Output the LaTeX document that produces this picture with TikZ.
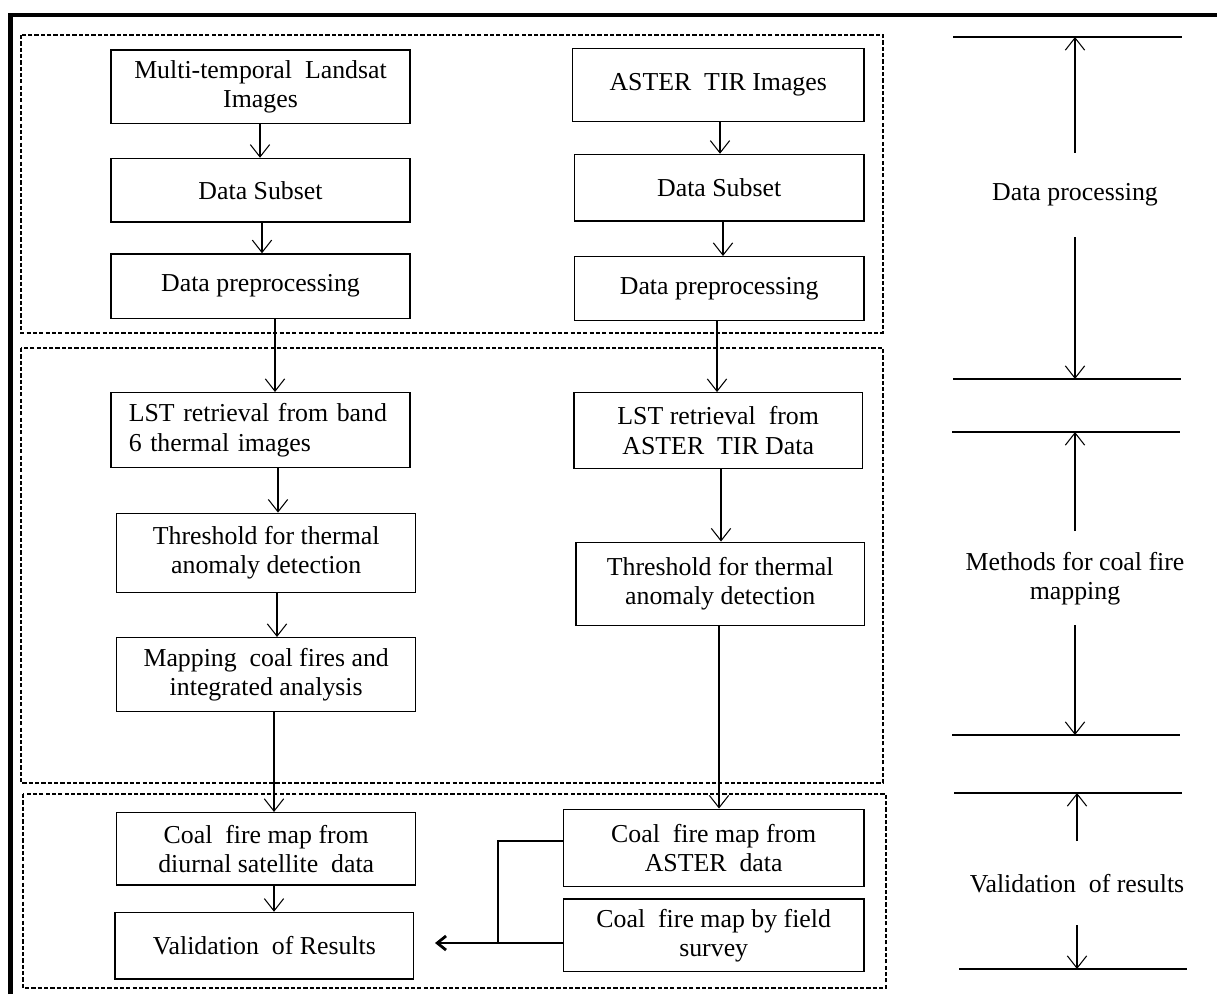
\documentclass[tikz,border=0pt]{standalone}
\usepackage{fontspec}
\setmainfont{Liberation Serif}
\usetikzlibrary{arrows.meta}
\tikzset{procbox/.style={draw, line width=0.8pt, align=center, inner sep=0pt,
		font=\fontsize{14.7}{16.6}\selectfont},
	flow/.style={-{Straight Barb[length=7pt,width=11pt]}, line width=0.6pt},
	dashbox/.style={draw, line width=0.6pt, dash pattern=on 2.4pt off 1.2pt},
	sidelabel/.style={align=center, inner sep=0pt, font=\fontsize{14.7}{16.6}\selectfont}}
\begin{document}
\begin{tikzpicture}[x=0.02cm,y=-0.02cm]
\useasboundingbox (0,0) rectangle (1217,994);
\draw[line width=2.3pt] (10.5,994) -- (10.5,15) -- (1217,15);
% stages
\draw[dashbox] (21,35) rectangle (883,333);
\draw[dashbox] (21,348) rectangle (883,783);
\draw[dashbox] (23,794) rectangle (886,988);
% Landsat column
\node[procbox, minimum width=5.98cm, minimum height=1.47cm] (landsat) at (260.5,86.7) {Multi-temporal\ \ Landsat\\Images};
\node[procbox, minimum width=5.98cm, minimum height=1.27cm] (lsub) at (260.5,190.2) {Data Subset};
\node[procbox, minimum width=5.98cm, minimum height=1.29cm] (lpre) at (260.5,286.2) {Data preprocessing};
\node[procbox, minimum width=5.98cm, minimum height=1.5cm, text width=5.27cm, align=left] (llst) at (260.5,430.2) {\makebox[5.27cm][s]{LST retrieval from band}\\6 thermal images};
\node[procbox, minimum width=5.98cm, minimum height=1.58cm] (lthr) at (266.2,552.8) {Threshold for thermal\\anomaly detection};
\node[procbox, minimum width=5.98cm, minimum height=1.48cm] (lmap) at (266.2,674.7) {Mapping\ \ coal fires and\\integrated analysis};
\node[procbox, minimum width=5.98cm, minimum height=1.45cm] (lcfm) at (266.2,848.9) {Coal\ \ fire map from\\diurnal satellite\ \ data};
\node[procbox, minimum width=5.97cm, minimum height=1.33cm] (valid) at (264.4,945.7) {Validation\ \ of Results};
% ASTER column
\node[procbox, minimum width=5.83cm, minimum height=1.47cm] (aster) at (718.2,85) {ASTER\ \ TIR Images};
\node[procbox, minimum width=5.79cm, minimum height=1.33cm] (asub) at (719.2,187.7) {Data Subset};
\node[procbox, minimum width=5.79cm, minimum height=1.28cm] (apre) at (719.2,288.7) {Data preprocessing};
\node[procbox, minimum width=5.77cm, minimum height=1.51cm] (alst) at (718.2,430.5) {LST retrieval\ \ from\\ASTER\ \ TIR Data};
\node[procbox, minimum width=5.77cm, minimum height=1.67cm] (athr) at (720.2,584) {Threshold for thermal\\anomaly detection};
\node[procbox, minimum width=6.01cm, minimum height=1.55cm] (acfm) at (713.7,848) {Coal\ \ fire map from\\ASTER\ \ data};
\node[procbox, minimum width=6.01cm, minimum height=1.45cm] (field) at (713.7,935.3) {Coal\ \ fire map by field\\survey};
% arrows
\draw[flow] (landsat.south -| 260,0) -- (lsub.north -| 260,0);
\draw[flow] (lsub.south -| 262,0) -- (lpre.north -| 262,0);
\draw[flow] (lpre.south -| 275,0) -- (llst.north -| 275,0);
\draw[flow] (llst.south -| 278,0) -- (lthr.north -| 278,0);
\draw[flow] (lthr.south -| 277,0) -- (lmap.north -| 277,0);
\draw[flow] (lmap.south -| 274,0) -- (lcfm.north -| 274,0);
\draw[flow] (lcfm.south -| 274,0) -- (valid.north -| 274,0);
\draw[flow] (aster.south -| 720,0) -- (asub.north -| 720,0);
\draw[flow] (asub.south -| 723,0) -- (apre.north -| 723,0);
\draw[flow] (apre.south -| 717,0) -- (alst.north -| 717,0);
\draw[flow] (alst.south -| 721,0) -- (athr.north -| 721,0);
\draw[flow] (athr.south -| 719,0) -- (acfm.north -| 719,0);
\coordinate (join) at (498,943);
\coordinate (tip) at (435,943);
\draw[line width=0.6pt] (acfm.west |- 0,841) -| (join) -- (field.west |- join);
\draw[line width=1.6pt, -{Straight Barb[length=5pt,width=8pt]}] (join) -- (tip);
% side scale
\draw[line width=0.7pt] (953,37) -- (1182,37);
\draw[line width=0.7pt] (953,379) -- (1181,379);
\draw[line width=0.7pt] (952,432) -- (1180,432);
\draw[line width=0.7pt] (952,735) -- (1180,735);
\draw[line width=0.7pt] (954,793) -- (1182,793);
\draw[line width=0.7pt] (959,969) -- (1187,969);
\node[sidelabel, minimum height=1.67cm] (dproc) at (1075,195) {Data processing};
\node[sidelabel, minimum height=1.87cm] (meth) at (1075,578.3) {Methods for coal fire\\mapping};
\node[sidelabel, minimum height=1.67cm] (vres) at (1077,883.3) {Validation\ \ of results};
\draw[flow] (dproc.north) -- (dproc.north |- 0,37);
\draw[flow] (dproc.south) -- (dproc.south |- 0,379);
\draw[flow] (meth.north) -- (meth.north |- 0,432);
\draw[flow] (meth.south) -- (meth.south |- 0,735);
\draw[flow] (vres.north) -- (vres.north |- 0,793);
\draw[flow] (vres.south) -- (vres.south |- 0,969);
\end{tikzpicture}
\end{document}
